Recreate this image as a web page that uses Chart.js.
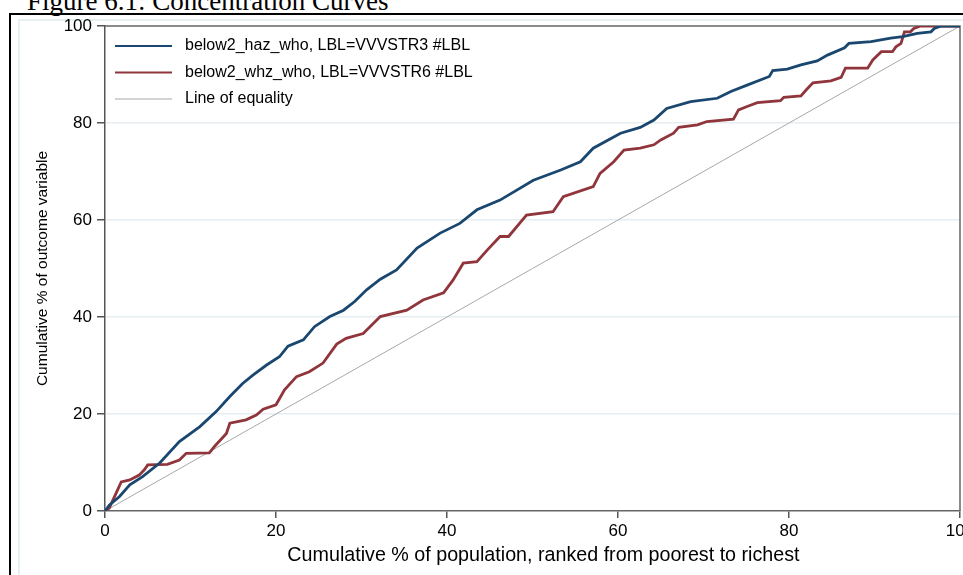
<!DOCTYPE html>
<html>
<head>
<meta charset="utf-8">
<title>Concentration Curves</title>
<script src="https://cdn.jsdelivr.net/npm/chart.js@4.4.1/dist/chart.umd.min.js"></script>
<style>
  html, body { margin: 0; padding: 0; background: #fff; overflow: hidden; width: 963px; height: 575px; }
  #title { position: absolute; left: 27px; top: -12px; font-family: "Liberation Serif", "Times New Roman", serif;
           font-size: 27px; line-height: 27px; white-space: nowrap; color: #000; }
  #frame { position: absolute; left: 9px; top: 13px; width: 1100px; height: 700px;
           border-top: 2px solid #000; border-left: 2px solid #000; }
  #inner { position: absolute; left: 18px; top: 19px; width: 1100px; height: 700px;
           border-top: 2px solid #e8f0f2; border-left: 2px solid #e8f0f2; }
  #wrap { position: absolute; left: 0; top: 0; width: 1000px; height: 575px; }
</style>
</head>
<body>
<div id="title">Figure 6.1: Concentration Curves</div>
<div id="frame"></div>
<div id="inner"></div>
<div id="wrap"><canvas id="chart"></canvas></div>
<script>
// cumulative % of population (x) and of outcome (y)
const hazX = [0, 0.5, 1.7, 2.9, 4.4, 6.4, 8.7, 11.1, 13, 14.6, 16.1, 17.3, 18.9, 20.4, 21.4, 23.2, 24.5, 26.3,
  27.9, 29.2, 30.6, 32.2, 34.1, 36.5, 39.2, 41.5, 43.5, 46.2, 50.1, 53.3, 55.6, 57.1, 60.3, 62.6, 64.2, 65.7,
  68.5, 71.6, 73.2, 75.1, 77.7, 78.1, 79.8, 81.4, 83.3, 84.5, 86.5, 87, 89.6, 91.9, 93.3, 95, 96.6, 97, 97.8, 100];
const hazY = [0, 1.2, 3, 5.4, 7.1, 9.9, 14.3, 17.4, 20.5, 23.6, 26.3, 28, 30.1, 31.8, 34, 35.3, 38, 40.1,
  41.4, 43.2, 45.6, 47.8, 49.7, 54.2, 57.3, 59.3, 62.1, 64.1, 68.2, 70.3, 72, 74.8, 77.9, 79.1, 80.6, 83,
  84.4, 85.1, 86.5, 87.8, 89.6, 90.8, 91.1, 92, 92.8, 94, 95.5, 96.4, 96.8, 97.5, 97.8, 98.5, 98.8, 99.5, 100, 100];

const whzX = [0, 0.5, 1.3, 1.9, 2.9, 4.0, 4.6, 5.0, 7.3, 8.7, 9.5, 12.2, 12.8, 14.2, 14.6, 16.5, 17.7, 18.5,
  20.0, 21.0, 22.4, 23.9, 25.5, 27.1, 28.2, 30.2, 32.2, 35.3, 37.2, 39.6, 40.7, 41.9, 43.5, 44.7, 46.2, 47.2,
  49.3, 52.4, 53.6, 57.1, 57.9, 59.5, 60.7, 62.6, 64.2, 65, 66.5, 67.1, 69.3, 70.4, 73.5, 74.1, 75.1, 76.3,
  79, 79.4, 81.4, 82, 82.8, 84.9, 86.1, 86.6, 89.2, 89.8, 90.8, 92.1, 92.5, 93.1, 93.5, 94.2, 94.6, 95.4, 100];
const whzY = [0, 0.6, 3.7, 6.0, 6.4, 7.4, 8.5, 9.5, 9.6, 10.5, 11.9, 12, 13.3, 16, 18.1, 18.8, 19.8, 21.0,
  21.9, 25, 27.7, 28.7, 30.5, 34.4, 35.6, 36.6, 40.1, 41.4, 43.5, 45, 47.6, 51.1, 51.4, 53.8, 56.6, 56.6,
  61.0, 61.7, 64.8, 66.9, 69.6, 72, 74.4, 74.8, 75.5, 76.5, 77.9, 79.1, 79.6, 80.3, 80.8, 82.7, 83.4, 84.2,
  84.6, 85.3, 85.6, 86.8, 88.3, 88.7, 89.4, 91.3, 91.3, 93, 94.7, 94.7, 95.7, 96.4, 98.8, 98.8, 99.5, 100, 100];

const equalX = [0, 100];
const equalY = [0, 100];

const seriesLabels = ['below2_haz_who, LBL=VVVSTR3 #LBL', 'below2_whz_who, LBL=VVVSTR6 #LBL', 'Line of equality'];
const tickValues = [0, 20, 40, 60, 80, 100];

const toPoints = (xs, ys) => xs.map((x, i) => ({ x: x, y: ys[i] }));

const sans = "'Liberation Sans', Arial, sans-serif";

// legend drawn inside the plot region, top-left, like the Stata one
const insideLegend = {
  id: 'insideLegend',
  afterDatasetsDraw(chart) {
    const { ctx, chartArea } = chart;
    ctx.save();
    ctx.font = '16px ' + sans;
    ctx.textBaseline = 'middle';
    chart.data.datasets.forEach((ds, i) => {
      const y = chartArea.top + 20 + i * 26.5;
      ctx.strokeStyle = ds.borderColor;
      ctx.lineWidth = Math.min(ds.borderWidth, 2.2);
      ctx.beginPath();
      ctx.moveTo(chartArea.left + 10, y);
      ctx.lineTo(chartArea.left + 67, y);
      ctx.stroke();
      ctx.fillStyle = '#000';
      ctx.fillText(ds.label, chartArea.left + 80, y);
    });
    ctx.restore();
  }
};

// top and right edges of the plot region
const plotBorder = {
  id: 'plotBorder',
  beforeDatasetsDraw(chart) {
    const { ctx, chartArea } = chart;
    ctx.save();
    ctx.strokeStyle = '#666';
    ctx.lineWidth = 1.5;
    ctx.beginPath();
    ctx.moveTo(chartArea.left, chartArea.top);
    ctx.lineTo(chartArea.right, chartArea.top);
    ctx.lineTo(chartArea.right, chartArea.bottom);
    ctx.stroke();
    ctx.restore();
  }
};

new Chart(document.getElementById('chart'), {
  type: 'line',
  data: {
    datasets: [
      { label: seriesLabels[0], data: toPoints(hazX, hazY), borderColor: '#1a476f', borderWidth: 2.8 },
      { label: seriesLabels[1], data: toPoints(whzX, whzY), borderColor: '#90353b', borderWidth: 2.8 },
      { label: seriesLabels[2], data: toPoints(equalX, equalY), borderColor: '#a8a8a8', borderWidth: 1 }
    ]
  },
  options: {
    responsive: true,
    maintainAspectRatio: false,
    animation: false,
    elements: { point: { radius: 0 }, line: { tension: 0 } },
    layout: { padding: { left: 0, top: 26, right: 40, bottom: 0 } },
    plugins: { legend: { display: false }, tooltip: { enabled: false } },
    scales: {
      x: {
        type: 'linear', min: 0, max: 100,
        afterBuildTicks: s => { s.ticks = tickValues.map(v => ({ value: v })); },
        afterFit: s => { s.height = 64; },
        border: { color: '#666', width: 1.5 },
        grid: { drawOnChartArea: false, tickColor: '#555', tickLength: 7, lineWidth: 1.5 },
        ticks: { color: '#000', font: { family: sans, size: 17 }, padding: 3, maxRotation: 0 },
        title: { display: true, text: '    Cumulative % of population, ranked from poorest to richest',
                 color: '#000', font: { family: sans, size: 19.7 }, padding: { bottom: 8 } }
      },
      y: {
        type: 'linear', min: 0, max: 100,
        afterBuildTicks: s => { s.ticks = tickValues.map(v => ({ value: v })); },
        afterFit: s => { s.width = 105; },
        border: { color: '#555', width: 1.5 },
        grid: {
          color: c => (c.tick && (c.tick.value === 0 || c.tick.value === 100)) ? 'rgba(0,0,0,0)' : '#e6eef1',
          lineWidth: 1.5, tickColor: '#555', tickLength: 8
        },
        ticks: { color: '#000', font: { family: sans, size: 17 }, padding: 5 },
        title: { display: true, text: 'Cumulative % of outcome variable',
                 color: '#000', font: { family: sans, size: 15.5 }, padding: { top: 33 } }
      }
    }
  },
  plugins: [plotBorder, insideLegend]
});
</script>
</body>
</html>
